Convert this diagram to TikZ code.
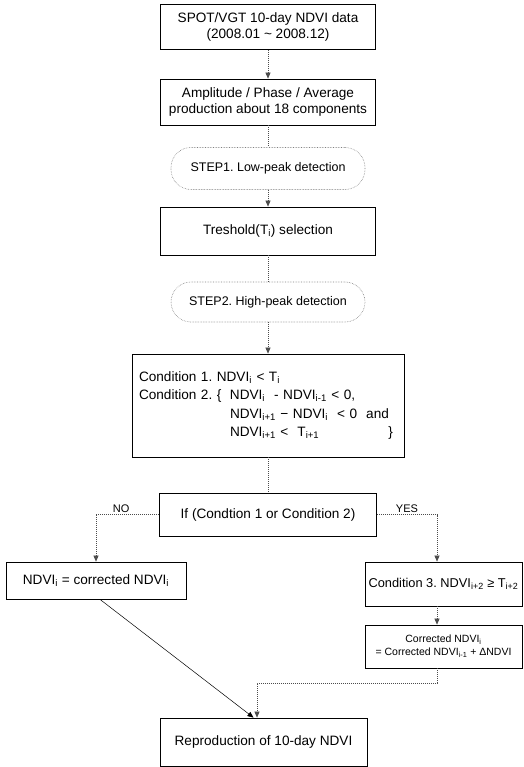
\documentclass[tikz,border=0pt]{standalone}
\usepackage{fontspec}
\setmainfont{Liberation Sans}
\usetikzlibrary{arrows.meta}

\newcommand{\ix}[1]{\textsubscript{#1}}
\frenchspacing

\begin{document}
\begin{tikzpicture}[
		x=1pt, y=-1pt,
		every node/.style={font=\fontsize{13.6}{16.5}\selectfont},
		box/.style={draw, line width=0.8pt, align=center, minimum width=215pt, minimum height=45pt},
		stepbox/.style={draw=gray, densely dotted, line width=0.6pt, rounded corners=20pt, minimum width=194pt, minimum height=42pt, font=\fontsize{12.5}{15}\selectfont},
		link/.style={gray!60!black, line width=0.6pt, dash pattern=on 1pt off 1pt},
		arrow/.style={link, -{Triangle[length=6pt,width=5pt]}},
		plain/.style={line width=0.5pt, -{Triangle[length=6pt,width=5pt]}},
		lbl/.style={font=\fontsize{11}{13}\selectfont, text=black, above, inner sep=2pt}
		]
		\useasboundingbox (0,0) rectangle (523,767);
		
		\node[box] (spot) at (268,27) {SPOT/VGT 10-day NDVI data\\(2008.01 \textasciitilde{} 2008.12)};
		\node[box, minimum height=46pt] (ampl) at (268,102) {Amplitude / Phase / Average\\production about 18 components};
		\node[stepbox] (low) at (268,168.5) {STEP1. Low-peak detection};
		\node[box, minimum height=48pt] (thr) at (268,231) {Treshold(T\ix{i}) selection};
		\node[stepbox, minimum height=40pt] (high) at (268,302) {STEP2. High-peak detection};
		\node[box, minimum width=272pt, minimum height=103pt, text width=258pt, inner xsep=7pt, align=left,
			font=\fontsize{13.6}{18.5}\selectfont] (cond) at (268,405.5) {Condition 1. NDVI\ix{i} < T\ix{i}\\
			\makebox[91pt][l]{Condition 2. \{}NDVI\ix{i}\ \ - NDVI\ix{i-1} < 0,\\
			\hspace*{91pt}NDVI\ix{i+1} − NDVI\ix{i}\ \ < 0\ \ and\\
			\hspace*{91pt}\makebox[163pt][l]{NDVI\ix{i+1} <\ \ T\ix{i+1}\hfill\}}};
		\node[box, minimum width=217pt, minimum height=43pt] (iff) at (268,514.5) {If (Condtion 1 or Condition 2)};
		\node[box, minimum width=180pt, minimum height=37pt] (keep) at (96,580.5) {NDVI\ix{i} = corrected NDVI\ix{i}};
		\node[box, minimum width=157pt, minimum height=44pt, inner xsep=2pt, font=\fontsize{12.8}{15}\selectfont] (cthree) at (443.5,584) {Condition 3. NDVI\ix{i+2} ≥ T\ix{i+2}};
		\node[box, minimum width=157pt, minimum height=43pt, font=\fontsize{10.5}{13}\selectfont] (corr) at (443.5,646.5) {Corrected NDVI\ix{i}\\= Corrected NDVI\ix{i-1} + ΔNDVI};
		\node[box, minimum width=207pt, minimum height=48pt] (repro) at (263.5,742) {Reproduction of 10-day NDVI};
		
		\draw[arrow] (spot) -- (ampl);
		\draw[link] (ampl) -- (low);
		\draw[arrow] (low) -- (thr);
		\draw[link] (thr) -- (high);
		\draw[arrow] (high) -- (cond);
		\draw[link] (cond) -- (iff);
		\draw[arrow] (iff.west) -| node[lbl, pos=0.3] {NO} (keep.north);
		\draw[arrow] (iff.east) -| node[lbl, pos=0.25] {YES} ([xshift=-6.5pt]cthree.north);
		\draw[arrow] ([xshift=-6.5pt]cthree.south) -- ([xshift=-6.5pt]corr.north);
		\draw[plain] ([xshift=4pt]keep.south) -- ([xshift=-10pt]repro.north);
		\draw[arrow] ([xshift=-6.5pt]corr.south) -- ++(0,15) -| ([xshift=-6.5pt]repro.north);
		
	\end{tikzpicture}
\end{document}
